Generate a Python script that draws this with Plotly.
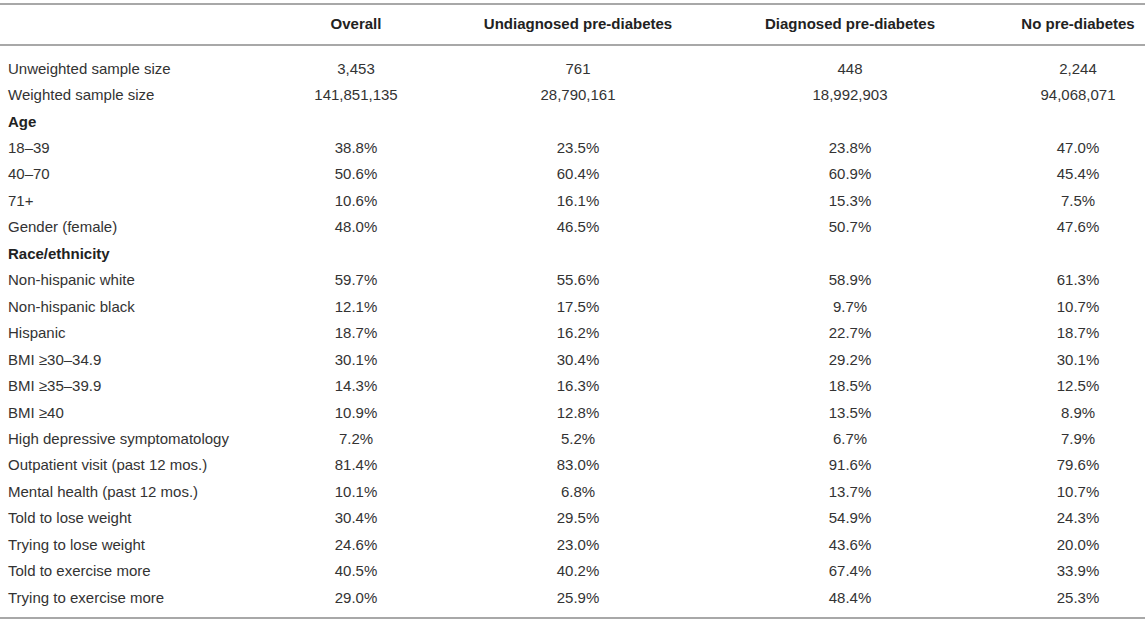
import plotly.graph_objects as go

groups = ["Overall", "Undiagnosed pre-diabetes", "Diagnosed pre-diabetes", "No pre-diabetes"]
unweighted_n = [3453, 761, 448, 2244]
weighted_n = [141851135, 28790161, 18992903, 94068071]

row_labels = [
    "Age", "18–39", "40–70", "71+", "Gender (female)",
    "Race/ethnicity", "Non-hispanic white", "Non-hispanic black", "Hispanic",
    "BMI ≥30–34.9", "BMI ≥35–39.9", "BMI ≥40",
    "High depressive symptomatology", "Outpatient visit (past 12 mos.)",
    "Mental health (past 12 mos.)", "Told to lose weight", "Trying to lose weight",
    "Told to exercise more", "Trying to exercise more",
]
section_rows = ["Age", "Race/ethnicity"]

# percentages, None for the section heading rows
pct_overall = [None, 38.8, 50.6, 10.6, 48.0, None, 59.7, 12.1, 18.7, 30.1, 14.3, 10.9,
               7.2, 81.4, 10.1, 30.4, 24.6, 40.5, 29.0]
pct_undiagnosed = [None, 23.5, 60.4, 16.1, 46.5, None, 55.6, 17.5, 16.2, 30.4, 16.3, 12.8,
                   5.2, 83.0, 6.8, 29.5, 23.0, 40.2, 25.9]
pct_diagnosed = [None, 23.8, 60.9, 15.3, 50.7, None, 58.9, 9.7, 22.7, 29.2, 18.5, 13.5,
                 6.7, 91.6, 13.7, 54.9, 43.6, 67.4, 48.4]
pct_none = [None, 47.0, 45.4, 7.5, 47.6, None, 61.3, 10.7, 18.7, 30.1, 12.5, 8.9,
            7.9, 79.6, 10.7, 24.3, 20.0, 33.9, 25.3]


def fmt_col(n_unw, n_w, pcts):
    out = [f"{n_unw:,}", f"{n_w:,}"]
    out += ["" if p is None else f"{p:.1f}%" for p in pcts]
    return out


all_labels = ["Unweighted sample size", "Weighted sample size"] + row_labels
# plain labels in the main table, section headings go on a bold overlay
plain_labels = ["" if r in section_rows else r for r in all_labels]
bold_labels = [r if r in section_rows else "" for r in all_labels]

pct_cols = [pct_overall, pct_undiagnosed, pct_diagnosed, pct_none]
value_cols = [fmt_col(unweighted_n[i], weighted_n[i], pct_cols[i]) for i in range(4)]

W, H = 1145, 622
font = "Liberation Sans, Arial, sans-serif"
col_w = [245, 222, 222, 322, 134]
head_h = 44.9
row_h = 26.45
top = 1 - 9.5 / H
no_line = dict(color="rgba(0,0,0,0)", width=0)

fig = go.Figure()
fig.add_trace(go.Table(
    columnwidth=col_w,
    header=dict(
        values=[""] + groups,
        align=["left", "center", "center", "center", "center"],
        height=head_h,
        fill_color="white",
        line=no_line,
        font=dict(family=font, size=15, color="#222222", weight=700),
    ),
    cells=dict(
        values=[plain_labels] + value_cols,
        align=["left", "center", "center", "center", "center"],
        height=row_h,
        fill_color="white",
        line=no_line,
        font=dict(family=font, size=15, color="#333333"),
    ),
    domain=dict(x=[0, 1], y=[0, top]),
))
fig.add_trace(go.Table(
    header=dict(values=[""], height=head_h, fill_color="rgba(0,0,0,0)", line=no_line),
    cells=dict(
        values=[bold_labels],
        align="left",
        height=row_h,
        fill_color="rgba(0,0,0,0)",
        line=no_line,
        font=dict(family=font, size=15, color="#222222", weight=700),
    ),
    domain=dict(x=[0, col_w[0] / sum(col_w)], y=[0, top]),
))

# horizontal rules: top, under header, bottom
for y_px in [4, 45, 618]:
    fig.add_shape(type="line", xref="paper", yref="paper",
                  x0=0, x1=1, y0=1 - y_px / H, y1=1 - y_px / H,
                  line=dict(color="#a8a8a8", width=2))

fig.update_layout(
    width=W, height=H,
    margin=dict(l=0, r=0, t=0, b=0),
    paper_bgcolor="white",
)

fig.write_html("out.html", config={"displayModeBar": False},
               post_script="document.body.style.margin='0';")
